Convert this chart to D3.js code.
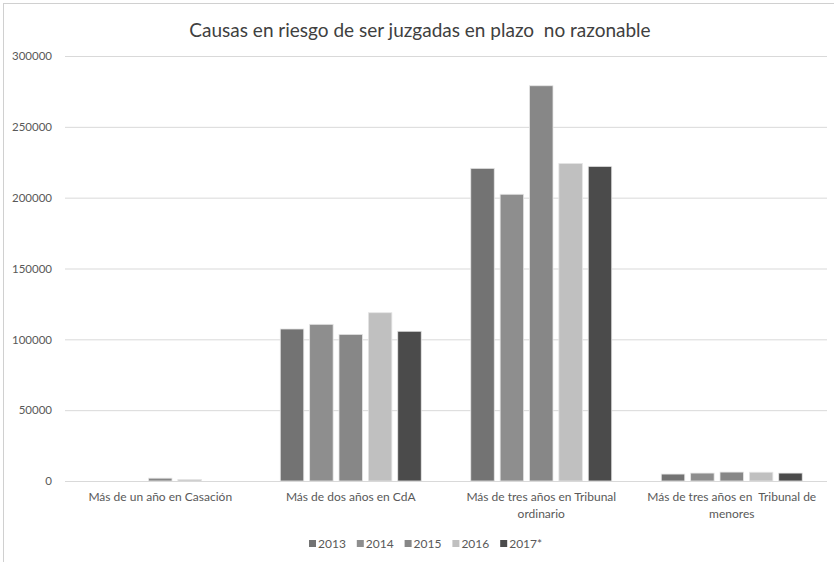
<!DOCTYPE html>
<html>
<head>
<meta charset="utf-8">
<script src="https://cdn.jsdelivr.net/npm/d3@7"></script>
<style>
  body { margin: 0; background: #fff; }
  svg { display: block; font-family: Lato, "Open Sans", sans-serif; }
  text { white-space: pre; }
</style>
</head>
<body>
<script>
var w = 837;
var h = 562;

// data
var categories = [
    ["Más de un año en Casación"],
    ["Más de dos años en CdA"],
    ["Más de tres años en Tribunal", "ordinario"],
    ["Más de tres años en  Tribunal de", "menores"]
];
var years = ["2013", "2014", "2015", "2016", "2017*"];
var v2013 = [0, 107300, 220700, 4900];
var v2014 = [0, 110600, 202400, 5600];
var v2015 = [2000, 103500, 279000, 6300];
var v2016 = [1100, 118800, 224200, 6200];
var v2017 = [0, 105700, 222100, 5600];
var yTicks = [0, 50000, 100000, 150000, 200000, 250000, 300000];
var colors = ["#737373", "#8e8e8e", "#878787", "#c0c0c0", "#4b4b4b"];

var series = [v2013, v2014, v2015, v2016, v2017];

// plot edges (not "top": that name is taken by window.top)
var pLeft = 65, pRight = 827, pTop = 56, pBottom = 481;

var svg = d3.select("body").append("svg")
    .attr("width", w)
    .attr("height", h);

// frame edges
svg.append("line").attr("x1", 3).attr("x2", 834).attr("y1", 3.5).attr("y2", 3.5)
    .attr("stroke", "#d0d0d0");
svg.append("line").attr("x1", 3.5).attr("x2", 3.5).attr("y1", 3).attr("y2", 562)
    .attr("stroke", "#d0d0d0");

svg.append("text")
    .attr("x", 420)
    .attr("y", 37)
    .attr("text-anchor", "middle")
    .attr("font-size", "19px")
    .attr("fill", "#404040")
    .text("Causas en riesgo de ser juzgadas en plazo  no razonable");

var x0 = d3.scaleBand()
    .domain(d3.range(categories.length))
    .range([pLeft, pRight])
    .paddingInner(0.26)
    .paddingOuter(0.13);

var x1 = d3.scaleBand()
    .domain(d3.range(years.length))
    .range([0, x0.bandwidth()])
    .paddingInner(0.2);

var y = d3.scaleLinear()
    .domain([0, 300000])
    .range([pBottom, pTop]);

// gridlines and y labels
var yAxis = d3.axisLeft(y)
    .tickValues(yTicks)
    .tickSize(-(pRight - pLeft))
    .tickPadding(13)
    .tickFormat(d3.format("d"));

var gy = svg.append("g")
    .attr("transform", "translate(" + pLeft + ",0)")
    .call(yAxis);
gy.select(".domain").remove();
gy.selectAll(".tick line").attr("stroke", "#d9d9d9");
gy.selectAll(".tick text")
    .attr("fill", "#595959")
    .attr("font-size", "11.5px")
    .attr("font-family", "Lato, sans-serif");

// bars
var groups = svg.selectAll("g.grp")
    .data(categories)
    .enter()
    .append("g")
    .attr("class", "grp")
    .attr("transform", function(d, i) { return "translate(" + x0(i) + ",0)"; });

groups.selectAll("rect")
    .data(function(d, i) {
        return series.map(function(s, k) { return { k: k, v: s[i] }; });
    })
    .enter()
    .append("rect")
    .attr("x", function(d) { return x1(d.k); })
    .attr("width", x1.bandwidth())
    .attr("y", function(d) { return y(d.v); })
    .attr("height", function(d) { return pBottom - y(d.v); })
    .attr("fill", function(d) { return colors[d.k]; })
    .attr("stroke", "#e6e6e6")
    .attr("stroke-width", 0.8);

// baseline
svg.append("line")
    .attr("x1", pLeft).attr("x2", pRight)
    .attr("y1", pBottom + 0.5).attr("y2", pBottom + 0.5)
    .attr("stroke", "#d9d9d9");

// category labels
var xl = svg.selectAll("text.cat")
    .data(categories)
    .enter()
    .append("text")
    .attr("class", "cat")
    .attr("x", function(d, i) { return x0(i) + x0.bandwidth() / 2; })
    .attr("y", 501)
    .attr("text-anchor", "middle")
    .attr("font-size", "12px")
    .attr("fill", "#595959");

xl.selectAll("tspan")
    .data(function(d) { return d; })
    .enter()
    .append("tspan")
    .attr("x", function() { return d3.select(this.parentNode).attr("x"); })
    .attr("dy", function(d, i) { return i === 0 ? 0 : 16.5; })
    .text(function(d) { return d; });

// legend
var leg = svg.selectAll("g.leg")
    .data(years)
    .enter()
    .append("g")
    .attr("class", "leg")
    .attr("transform", function(d, i) { return "translate(" + (309 + i * 47.8) + ",540)"; });

leg.append("rect")
    .attr("width", 7)
    .attr("height", 7)
    .attr("fill", function(d, i) { return colors[i]; });

leg.append("text")
    .attr("x", 9)
    .attr("y", 7.5)
    .attr("font-size", "12px")
    .attr("fill", "#595959")
    .text(function(d) { return d; });
</script>
</body>
</html>
